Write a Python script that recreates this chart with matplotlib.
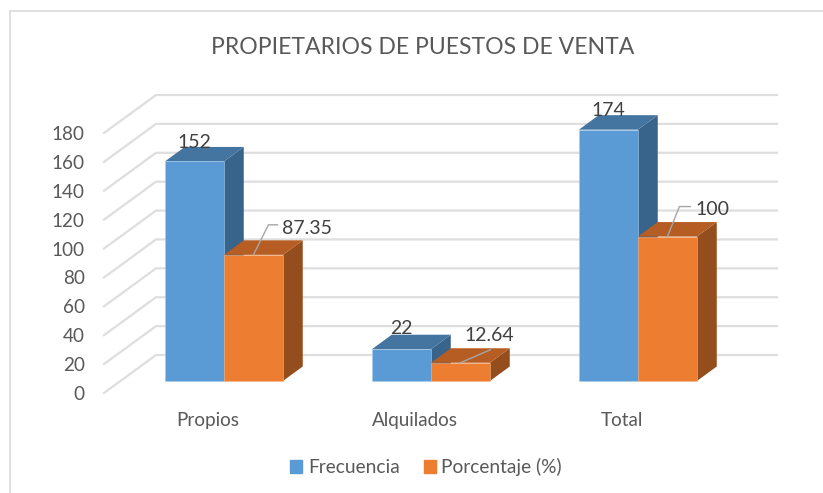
import matplotlib
matplotlib.use('Agg')
import matplotlib.pyplot as plt
from matplotlib.lines import Line2D
from matplotlib.patches import Patch

categories = ['Propios', 'Alquilados', 'Total']
frecuencia = [152, 22, 174]
porcentaje = [87.35, 12.64, 100]
yticks = [0, 20, 40, 60, 80, 100, 120, 140, 160, 180]

W, H = 823, 493
plt.rcParams['font.family'] = ['Lato', 'DejaVu Sans']

fig = plt.figure(figsize=(W / 100, H / 100), dpi=100)
# front edge of the floor: x 104..725, y 393, value 180 at y 133
ax = fig.add_axes([104 / W, 1 - 393 / H, 621 / W, 260 / H])
ax.set_xlim(-0.5, 2.5)
ax.set_ylim(0, 180)
ax.patch.set_visible(False)
for s in ax.spines.values():
    s.set_visible(False)

PX = 3 / 621
PY = 180 / 260


# fake 3d: depth d runs from 0 (front) to 1 (back wall)
def dx(d):
    return 52 * d * PX


def dy(d):
    return 38 * d * PY


ax.set_xticks(range(3), categories)
ax.set_yticks(yticks)
ax.tick_params(axis='x', length=0, pad=13.5, labelsize=13.6, labelcolor='#595959')
ax.tick_params(axis='y', length=0, pad=14, labelsize=13.6, labelcolor='#595959')

for v in yticks:
    ax.plot([-0.5, -0.5 + dx(1), 2.5 + dx(1)], [v, v + dy(1), v + dy(1)],
            color='#DEDEDE', lw=1.6, clip_on=False, zorder=1)

d0, d1 = 12 / 38, 26.5 / 38
width = 59 * PX


def bar3d(x0, value, front, top, side, edge, z):
    x1 = x0 + width
    off = dx(d1) - dx(d0)
    up = dy(d1) - dy(d0)
    fx0, fx1, base = x0 + dx(d0), x1 + dx(d0), dy(d0)
    ax.fill([fx1, fx1 + off, fx1 + off, fx1],
            [base, base + up, base + value + up, base + value],
            color=side, lw=0, zorder=z, clip_on=False)
    ax.fill([fx0, fx1, fx1 + off, fx0 + off],
            [base + value, base + value, base + value + up, base + value + up],
            color=top, lw=0, zorder=z, clip_on=False)
    ax.bar(fx0, value, width, bottom=base, align='edge', color=front,
           edgecolor=edge, lw=0.4, zorder=z, clip_on=False)


for i in range(3):
    bar3d(i - width, frecuencia[i], '#5B9BD5', '#4474A0', '#38638A', '#A9CBE8', 2 + i)
    bar3d(i, porcentaje[i], '#ED7D31', '#B55D22', '#944E1D', '#F4B183', 2 + i)


# label offsets in pixels from the middle of the bar's front top edge
blue_off = [(0, 19), (0, 21), (0, 19.5)]
orange_off = [(54, 26), (29, 27), (45, 27)]
leaders = [[(0, 0), (15, 30), (24, 30)], [(0, 0), (30, 13)], [(0, 0), (12, 30), (23, 30)]]

for i in range(3):
    cx = i - width / 2 + dx(d0)
    top = frecuencia[i] + dy(d0)
    ax.text(cx + blue_off[i][0] * PX, top + blue_off[i][1] * PY, str(frecuencia[i]),
            ha='center', va='center', fontsize=14, color='#404040', zorder=10)
    cx = i + width / 2 + dx(d0)
    top = porcentaje[i] + dy(d0)
    ax.text(cx + orange_off[i][0] * PX, top + orange_off[i][1] * PY, str(porcentaje[i]),
            ha='center', va='center', fontsize=14, color='#404040', zorder=10)
    ax.plot([cx + p[0] * PX for p in leaders[i]], [top + p[1] * PY for p in leaders[i]],
            color='#A6A6A6', lw=1, zorder=10, clip_on=False)

fig.text(423 / W, 1 - 48 / H, 'PROPIETARIOS DE PUESTOS DE VENTA', ha='center', va='center',
         fontsize=16.6, color='#595959')

handles = [Patch(color='#5B9BD5', label='Frecuencia'), Patch(color='#ED7D31', label='Porcentaje (%)')]
fig.legend(handles=handles, loc='center', bbox_to_anchor=(426 / W, 1 - 467 / H), ncol=2, frameon=False,
           fontsize=13.8, labelcolor='#595959', handlelength=0.63, handleheight=0.63,
           handletextpad=0.3, columnspacing=1.25)

# chart border
fig.add_artist(Line2D([10 / W, 10 / W], [0, 1 - 11 / H], color='#E0E0E0', lw=1.4))
fig.add_artist(Line2D([10 / W, 823 / W], [1 - 11 / H, 1 - 11 / H], color='#E0E0E0', lw=1.4))

fig.savefig('out.png', dpi=100)
